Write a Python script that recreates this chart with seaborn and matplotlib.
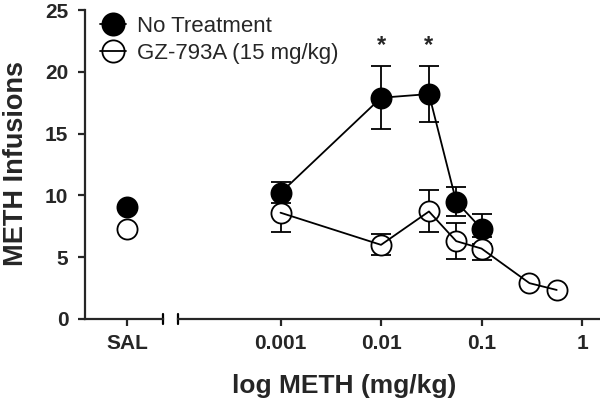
# plot.py
# METH self-administration dose-response, SAL panel + log dose panel

import numpy as np
import matplotlib
matplotlib.use("Agg")
import matplotlib.pyplot as plt
import seaborn as sns
from matplotlib.lines import Line2D
from matplotlib.ticker import NullLocator

# ------------------------------
# data
# ------------------------------
sal_label = "SAL"
sal_no_treatment = [9.1]
sal_gz = [7.3]

dose_no_treatment = [0.001, 0.01, 0.03, 0.056, 0.1]
mean_no_treatment = [10.2, 17.9, 18.2, 9.5, 7.3]
sem_no_treatment = [0.85, 2.55, 2.3, 1.2, 1.2]

dose_gz = [0.001, 0.01, 0.03, 0.056, 0.1, 0.3, 0.56]
mean_gz = [8.6, 6.0, 8.7, 6.3, 5.7, 2.9, 2.35]
sem_gz = [1.6, 0.85, 1.7, 1.45, 0.9, np.nan, np.nan]

star_doses = [0.01, 0.03]
star_height = 21.6

legend_labels = ["No Treatment", "GZ-793A (15 mg/kg)"]
x_ticks = [0.001, 0.01, 0.1, 1]
x_tick_labels = ["0.001", "0.01", "0.1", "1"]
y_ticks = [0, 5, 10, 15, 20, 25]

# ------------------------------
# style
# ------------------------------
sns.set_style("ticks")
plt.rcParams["font.family"] = ["Liberation Sans", "DejaVu Sans"]
plt.rcParams["font.weight"] = "bold"

lw = 1.3
ms = 14.5

fig = plt.figure(figsize=(6, 4), dpi=100)
ax_sal = fig.add_axes([85 / 600, 0.2025, 78 / 600, 0.7725])
ax_dose = fig.add_axes([178 / 600, 0.2025, 422 / 600, 0.7725], sharey=ax_sal)

# ------------------------------
# SAL panel
# ------------------------------
sns.scatterplot(x=[0], y=sal_no_treatment, s=ms ** 2, color="black",
                edgecolor="black", linewidth=lw, ax=ax_sal, zorder=3)
sns.scatterplot(x=[0], y=sal_gz, s=ms ** 2, color="white",
                edgecolor="black", linewidth=lw, ax=ax_sal, zorder=4)
ax_sal.set_xlim(-0.538, 0.462)
ax_sal.set_xticks([0])
ax_sal.set_xticklabels([sal_label])
ax_sal.set_ylim(0, 25)
ax_sal.set_yticks(y_ticks)

# ------------------------------
# dose panel
# ------------------------------
ax_dose.errorbar(dose_no_treatment, mean_no_treatment, yerr=sem_no_treatment,
                 fmt="none", ecolor="black", elinewidth=lw, capsize=7,
                 capthick=lw, zorder=2)
ax_dose.errorbar(dose_gz, mean_gz, yerr=sem_gz, fmt="none", ecolor="black",
                 elinewidth=lw, capsize=7, capthick=lw, zorder=2)

sns.lineplot(x=dose_no_treatment, y=mean_no_treatment, color="black", lw=lw,
             marker="o", markersize=ms, markerfacecolor="black",
             markeredgecolor="black", markeredgewidth=lw, errorbar=None,
             ax=ax_dose, zorder=3)
# open circles: white fill, connecting line drawn over them
sns.scatterplot(x=dose_gz, y=mean_gz, s=ms ** 2, color="white",
                edgecolor="black", linewidth=lw, ax=ax_dose, zorder=4)
sns.lineplot(x=dose_gz, y=mean_gz, color="black", lw=lw, errorbar=None,
             ax=ax_dose, zorder=5)

for d in star_doses:
    ax_dose.text(d, star_height, "*", ha="center", va="baseline",
                 fontsize=17, fontweight="bold")

ax_dose.set_xscale("log")
ax_dose.set_xlim(10 ** -4.02, 10 ** 0.179)
ax_dose.set_xticks(x_ticks)
ax_dose.set_xticklabels(x_tick_labels)
ax_dose.xaxis.set_minor_locator(NullLocator())

# ------------------------------
# axes cosmetics
# ------------------------------
sns.despine(ax=ax_sal)
sns.despine(ax=ax_dose, left=True)
for ax in (ax_sal, ax_dose):
    for sp in ax.spines.values():
        sp.set_linewidth(1.6)
    ax.tick_params(axis="x", length=5, width=1.6, pad=6, labelsize=15)
    ax.tick_params(axis="y", length=5, width=1.6, pad=7, labelsize=15)
    ax.set_xlabel("")
    ax.set_ylabel("")
    if ax.get_legend() is not None:
        ax.get_legend().remove()
ax_dose.tick_params(axis="y", left=False, labelleft=False)

# axis break caps
ax_sal.plot([1, 1], [-0.016, 0.016], transform=ax_sal.transAxes,
            color="black", lw=1.6, clip_on=False)
ax_dose.plot([0, 0], [-0.016, 0.016], transform=ax_dose.transAxes,
             color="black", lw=1.6, clip_on=False)

# labels
fig.text(344 / 600, 1 - 393 / 400, "log METH (mg/kg)", ha="center",
         va="baseline", fontsize=19, fontweight="bold")
fig.text(23 / 600, 1 - 164 / 400, "METH Infusions", ha="center",
         va="baseline", rotation=90, rotation_mode="anchor",
         fontsize=19.5, fontweight="bold")

# legend
handles = [
    Line2D([], [], color="black", lw=lw, marker="o", markersize=16,
           markerfacecolor="black", markeredgecolor="black", markeredgewidth=lw),
    Line2D([], [], color="black", lw=lw, marker="o", markersize=16,
           markerfacecolor="none", markeredgecolor="black", markeredgewidth=lw),
]
fig.legend(handles, legend_labels, loc="upper left",
           bbox_to_anchor=(100 / 600, 1 - 16 / 400), frameon=False,
           prop={"size": 16, "weight": "normal"}, handlelength=1.17,
           handletextpad=0.5, labelspacing=0.25, borderpad=0,
           borderaxespad=0)

fig.savefig("out.png", dpi=100)
